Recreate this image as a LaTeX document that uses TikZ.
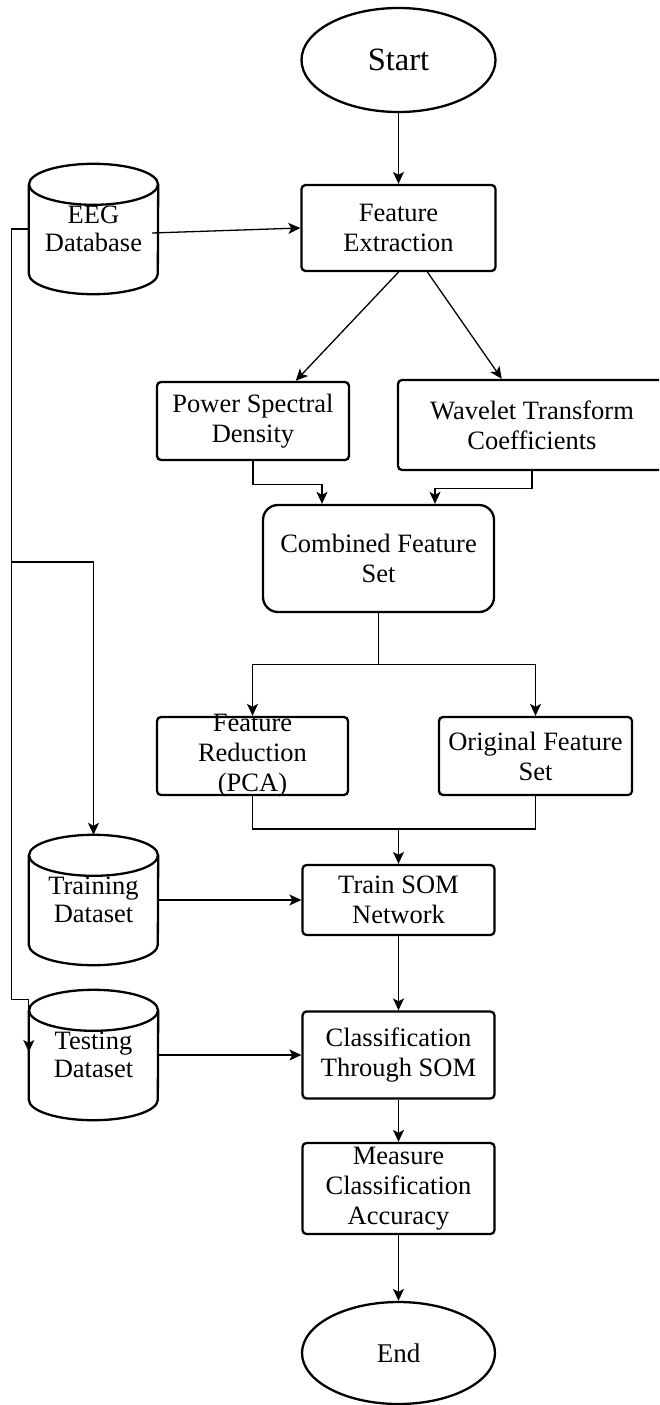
\documentclass[tikz,border=0pt]{standalone}
\usepackage{fontspec}
\setmainfont{Liberation Serif}
\usetikzlibrary{arrows.meta,calc,shapes.geometric}
\newcommand\dbshape[1]{%
  \draw[cylline] ($(#1.north west)+(0,20.5)$) -- ($(#1.south west)+(0,-20.5)$)
    arc[start angle=180,end angle=360,x radius=64.5pt,y radius=20.5pt]
    -- ($(#1.north east)+(0,20.5)$);
  \draw[cylline] ($(#1.north)+(0,20.5)$) ellipse[x radius=64.5pt,y radius=20.5pt];}
\begin{document}
\begin{tikzpicture}[x=1pt,y=-1pt,
  box/.style={draw,line width=2.3pt,rounded corners=4pt,align=center,inner sep=0pt,
    font=\fontsize{26.5}{30}\selectfont},
  txt/.style={align=center,inner sep=0pt,font=\fontsize{26.5}{30}\selectfont},
  term/.style={draw,ellipse,line width=2.3pt,inner sep=0pt,align=center},
  cyl/.style={inner sep=0pt,minimum width=129pt,minimum height=130pt,align=center,
    font=\fontsize{26.5}{28.5}\selectfont},
  cylline/.style={line width=2.3pt},
  conn/.style={line width=1.3pt,-{Stealth[length=12pt,width=11pt,inset=3pt]}},
  plain/.style={line width=1.3pt}]
\useasboundingbox (0,0) rectangle (659,1405);
\fill[white] (0,0) rectangle (659,1405);
\clip (0,0) rectangle (659,1405);

% terminals
\node[term,minimum width=194pt,minimum height=104pt,font=\fontsize{32.5}{36}\selectfont] (start) at (398.5,60) {Start};
\node[term,minimum width=193pt,minimum height=102pt,font=\fontsize{27}{30}\selectfont] (end) at (398.5,1353) {End};

% process boxes
\node[box,minimum width=194pt,minimum height=86pt] (fe) at (398.5,228) {Feature\\Extraction};
\node[box,minimum width=192pt,minimum height=78pt] (psd) at (253,421) {Power Spectral\\Density};
\node[box,minimum width=268pt,minimum height=90pt] (wav) at (532,425) {Wavelet Transform\\Coefficients};
\node[box,rounded corners=15pt,minimum width=231pt,minimum height=107pt] (comb) at (378.5,558.5) {Combined Feature\\Set};
\node[box,minimum width=191pt,minimum height=78pt] (fr) at (252.5,756) {};
\node[txt] (frt) at (fr.center) {Feature\\Reduction\\(PCA)};
\node[box,minimum width=193pt,minimum height=78pt] (ofs) at (535.5,756) {Original Feature\\Set};
\node[box,minimum width=192pt,minimum height=70pt] (train) at (398.5,900) {Train SOM\\Network};
\node[box,minimum width=192pt,minimum height=87pt] (cls) at (398.5,1055) {Classification\\Through SOM};
\node[box,minimum width=192pt,minimum height=91pt] (meas) at (398.5,1188.5) {Measure\\Classification\\Accuracy};

% databases
\node[cyl] (eeg) at (93.5,229) {EEG\\Database};
\node[cyl] (trn) at (93.5,900) {Training\\Dataset};
\node[cyl] (tst) at (93.5,1055) {Testing\\Dataset};
\dbshape{eeg}
\dbshape{trn}
\dbshape{tst}

% connectors
\draw[conn] (start.south) -- (fe.north);
\draw[conn] ($(eeg.east)+(-6,4)$) -- (fe.west);
\draw[conn] (fe.south) -- ($(psd.north west)!0.72!(psd.north east)$);
\draw[conn] ($(fe.south)+(29,0)$) -- ($(wav.north west)!0.388!(wav.north east)$);
\draw[conn] (psd.south) -- ++(0,23) -| ($(comb.north)+(-56.5,0)$);
\draw[conn] (wav.south) -- ++(0,17) -| ($(comb.north)+(56.5,0)$);
\draw[plain] (comb.south) -- ++(0,51) coordinate (split);
\draw[conn] (split) -| (fr.north);
\draw[conn] (split) -| (ofs.north);
\coordinate (merge) at ($(train.north)+(0,-35)$);
\draw[plain] (fr.south) |- (merge) -| (ofs.south);
\draw[conn] (merge) -- (train.north);
\draw[conn] (train.south) -- (cls.north);
\draw[conn] (cls.south) -- (meas.north);
\draw[conn] (meas.south) -- (end.north);
\draw[conn] (trn.east) -- (train.west);
\draw[conn] (tst.east) -- (cls.west);
\draw[conn] (eeg.west) -- ++(-17,0) -- ($(tst.north west)+(-17,10)$)
  -- ($(tst.north west)+(0,10)$) -- ($(tst.west)+(0,-3)$);
\draw[conn] ($(eeg.west)+(-17,333)$) -| (trn.north);
\end{tikzpicture}
\end{document}
